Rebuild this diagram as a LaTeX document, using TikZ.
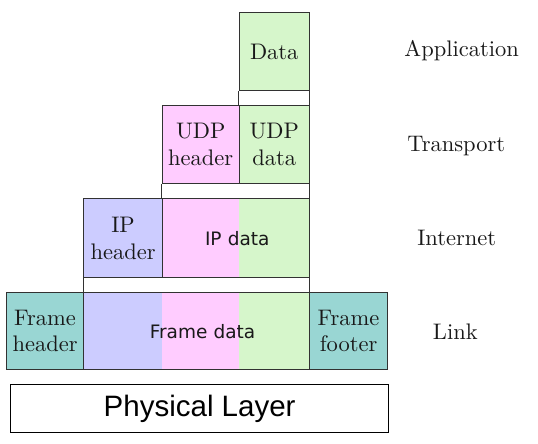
\documentclass[tikz,border=0pt]{standalone}
\usepackage{fontspec}
\setmainfont{lmroman10-regular.otf}
\newfontfamily\dvs{DejaVu Sans}
\newfontfamily\arl{Liberation Sans}
\definecolor{cgreen}{RGB}{214,246,203}
\definecolor{cpink}{RGB}{255,204,255}
\definecolor{cblue}{RGB}{204,204,255}
\definecolor{cteal}{RGB}{153,214,211}
\definecolor{cline}{RGB}{50,50,50}
\definecolor{ctext}{RGB}{25,25,25}
\begin{document}
\begin{tikzpicture}[x=1pt,y=-1pt,
  box/.style={draw=cline,line width=1.1pt,inner sep=0pt,anchor=north west,
    text=ctext,align=center,font=\fontsize{22.5}{26.5}\selectfont},
  sansbox/.style={box,font=\dvs\fontsize{18.5}{22}\selectfont},
  lbl/.style={anchor=base,text=ctext,font=\fontsize{22.5}{26.5}\selectfont},
  gap/.style={draw=cline,line width=1.1pt}]
\useasboundingbox (0,0) rectangle (538,444);
% Application
\node[box,fill=cgreen,minimum width=70pt,minimum height=78pt] (data) at (238.7,12) {Data};
% Transport
\node[box,fill=cpink,minimum width=77pt,minimum height=77.7pt] (udph) at (161.7,105) {UDP\\header};
\node[box,fill=cgreen,minimum width=70pt,minimum height=77.7pt] (udpd) at (238.7,105) {UDP\\data};
% Internet
\node[box,fill=cblue,minimum width=78.4pt,minimum height=79.3pt] (iph) at (83.3,198) {IP\\header};
\fill[cpink] (161.7,198) rectangle (238.7,277.3);
\fill[cgreen] (238.7,198) rectangle (308.7,277.3);
\node[sansbox,minimum width=147pt,minimum height=79.3pt,text width=147pt] (ipd) at (161.7,198) {\hspace*{3pt}IP data};
% Link
\node[box,fill=cteal,minimum width=77.6pt,minimum height=77.3pt] (fh) at (5.7,292) {Frame\\header};
\fill[cblue] (83.3,292) rectangle (161.7,369.3);
\fill[cpink] (161.7,292) rectangle (238.7,369.3);
\fill[cgreen] (238.7,292) rectangle (308.7,369.3);
\node[sansbox,minimum width=225.4pt,minimum height=77.3pt,text width=225.4pt] (fd) at (83.3,292) {\hspace*{12pt}Frame data};
\node[box,fill=cteal,minimum width=78.6pt,minimum height=77.3pt] (ff) at (308.7,292) {Frame\\footer};
% Physical
\node[draw=black,line width=1pt,inner sep=0pt,anchor=north west,minimum width=378.3pt,minimum height=48.3pt,font=\arl\fontsize{29.5}{32}\selectfont] (phy) at (10,384) {Physical Layer};
% encapsulation gaps
\draw[gap] (data.south west) -- (udpd.north west);
\draw[gap] (data.south east) -- (udpd.north east);
\draw[gap] (udph.south west) -- (ipd.north west);
\draw[gap] (udpd.south east) -- (ipd.north east);
\draw[gap] (iph.south west) -- (fd.north west);
\draw[gap] (ipd.south east) -- (fd.north east);
% layer labels
\node[lbl] (lapp) at (461.7,56.5) {Application};
\node[lbl] (ltr) at (456.3,151) {Transport};
\node[lbl] (lint) at (456.7,245) {Internet};
\node[lbl] (llink) at (455.3,339) {Link};
\end{tikzpicture}
\end{document}
